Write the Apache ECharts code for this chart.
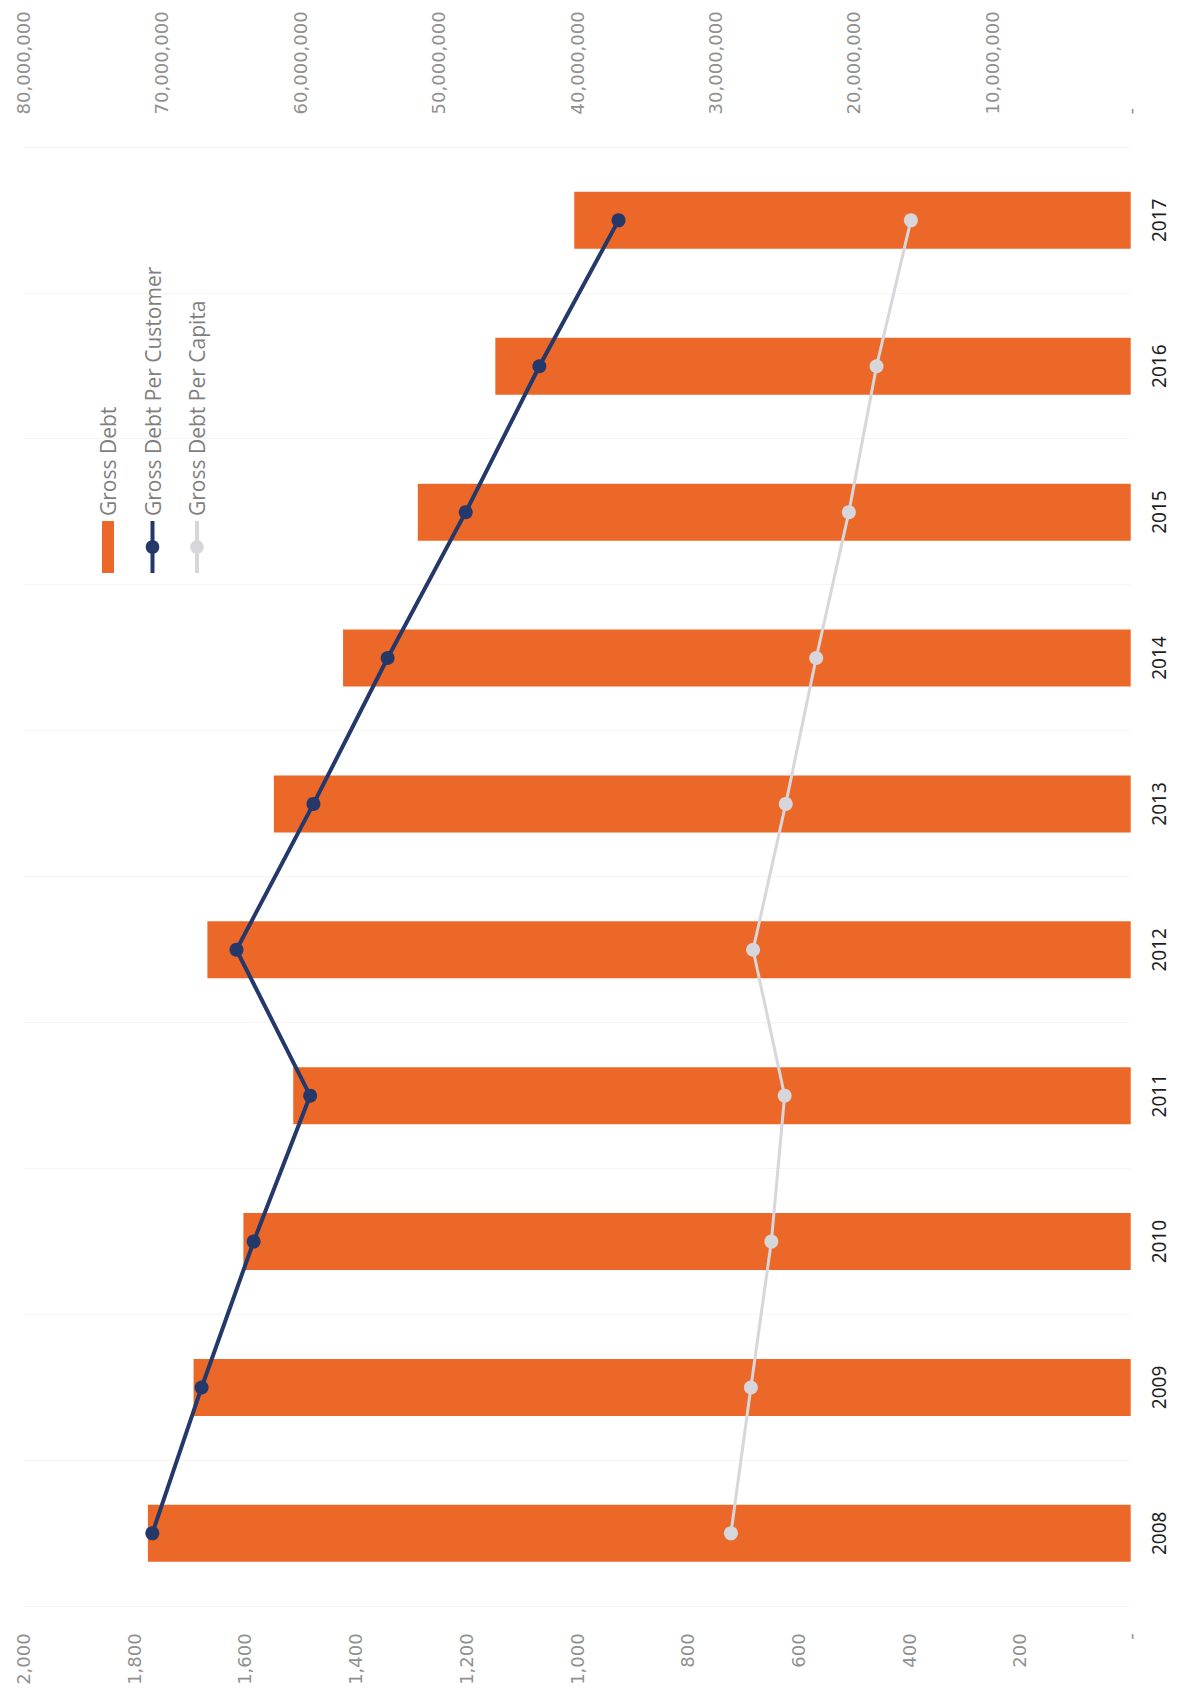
<!DOCTYPE html>
<html>
<head>
<meta charset="utf-8">
<script src="https://cdn.jsdelivr.net/npm/echarts@6/dist/echarts.min.js"></script>
<style>
html, body { margin: 0; padding: 0; background: #ffffff; overflow: hidden; width: 1185px; height: 1701px; }
#chart { position: absolute; left: 0; top: 0; width: 1701px; height: 1185px;
  transform-origin: 0 0; transform: translate(0px, 1701px) rotate(-90deg); }
</style>
</head>
<body>
<div id="chart"></div>
<script>
// ---- data ----
const years = ['2008', '2009', '2010', '2011', '2012', '2013', '2014', '2015', '2016', '2017'];
const grossDebt = [71000000, 67700000, 64100000, 60500000, 66700000, 61900000, 56900000, 51500000, 45900000, 40200000];
const grossDebtPerCustomer = [1767, 1678, 1584, 1482, 1615, 1476, 1342, 1201, 1068, 925];
const grossDebtPerCapita = [722, 686, 649, 625, 682, 623, 568, 509, 459, 397];
const leftAxis = { min: 0, max: 2000, interval: 200 };
const rightAxis = { min: 0, max: 80000000, interval: 10000000 };
const seriesNames = ['Gross Debt', 'Gross Debt Per Customer', 'Gross Debt Per Capita'];

function fmt(v) {
  if (v === 0) return '-';
  return String(v).replace(/\B(?=(\d{3})+(?!\d))/g, ',');
}

const barColor = '#eb6829';
const darkColor = '#24386a';
const lightColor = '#d7d6da';

const chart = echarts.init(document.getElementById('chart'), null, { renderer: 'svg' });
const axisLabelStyle = { fontFamily: 'DejaVu Sans', fontSize: 18, color: '#909090' };
chart.setOption({
  animation: false,
  backgroundColor: '#ffffff',
  grid: { left: 94.7, right: 147.4, top: 23.3, bottom: 54.3, containLabel: false },
  legend: {
    orient: 'vertical',
    left: 1126, top: 97,
    padding: 0,
    itemWidth: 52, itemHeight: 17, itemGap: 22.5,
    symbolKeepAspect: true,
    textStyle: { fontFamily: 'Open Sans', fontSize: 21, color: '#7f7f7f', lineHeight: 22 },
    data: [
      { name: seriesNames[0], icon: 'path://M0,0H52V12H0Z', itemStyle: { color: barColor } },
      { name: seriesNames[1], lineStyle: { width: 4, color: darkColor }, itemStyle: { color: darkColor } },
      { name: seriesNames[2], lineStyle: { width: 4, color: lightColor }, itemStyle: { color: lightColor } }
    ]
  },
  xAxis: {
    type: 'category',
    data: years,
    axisLine: { show: false },
    axisTick: { show: false },
    splitLine: { show: true, lineStyle: { color: '#f8f4f4', width: 1 } },
    axisLabel: { fontFamily: 'Noto Sans', fontSize: 19, color: '#1e1e1e', margin: 19 }
  },
  yAxis: [
    {
      type: 'value', position: 'left',
      min: leftAxis.min, max: leftAxis.max, interval: leftAxis.interval,
      axisLine: { show: false }, axisTick: { show: false },
      splitLine: { show: false },
      axisLabel: Object.assign({ margin: 27, formatter: fmt }, axisLabelStyle)
    },
    {
      type: 'value', position: 'right',
      min: rightAxis.min, max: rightAxis.max, interval: rightAxis.interval,
      axisLine: { show: false }, axisTick: { show: false },
      splitLine: { show: false },
      axisLabel: Object.assign({ margin: 33, formatter: fmt }, axisLabelStyle)
    }
  ],
  series: [
    {
      name: seriesNames[0], type: 'bar', yAxisIndex: 1,
      data: grossDebt, barWidth: 57,
      itemStyle: { color: barColor }
    },
    {
      name: seriesNames[1], type: 'line', yAxisIndex: 0,
      data: grossDebtPerCustomer,
      symbol: 'circle', symbolSize: 14,
      lineStyle: { color: darkColor, width: 4 },
      itemStyle: { color: darkColor }
    },
    {
      name: seriesNames[2], type: 'line', yAxisIndex: 0,
      data: grossDebtPerCapita,
      symbol: 'circle', symbolSize: 14,
      lineStyle: { color: lightColor, width: 3 },
      itemStyle: { color: lightColor }
    }
  ]
});
</script>
</body>
</html>
